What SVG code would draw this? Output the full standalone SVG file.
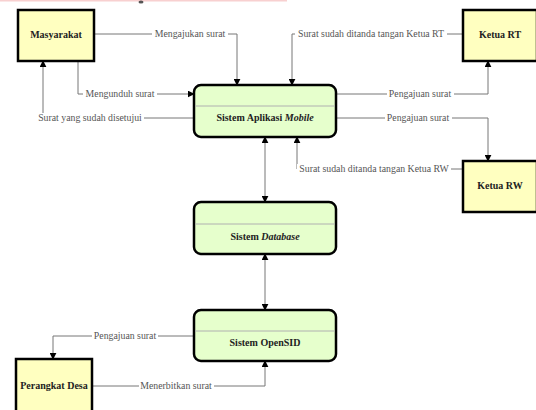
<svg xmlns="http://www.w3.org/2000/svg" width="536" height="410" viewBox="0 0 536 410">
<defs>
<marker id="ah" viewBox="0 0 10 10" refX="9" refY="5" markerWidth="7" markerHeight="7" orient="auto-start-reverse" markerUnits="userSpaceOnUse">
<path d="M0,0 L10,5 L0,10 z" fill="#000"/>
</marker>
<style>
.ent{fill:#FFFFC0;stroke:#000;stroke-width:2.5}
.proc{fill:#E6FFCC;stroke:#000;stroke-width:2.5}
.div{stroke:#B0B0B0;stroke-width:1}
.nt{font-family:"Liberation Serif","Times New Roman",serif;font-size:10px;font-weight:bold;fill:#222;text-anchor:middle}
.edge{fill:none;stroke:#777;stroke-width:1}
.arr{marker-end:url(#ah)}
.both{marker-start:url(#ah);marker-end:url(#ah)}
.el{font-family:"Liberation Serif","Times New Roman",serif;font-size:9.8px;fill:#555;text-anchor:middle}
.bg{fill:#fff}
</style>
</defs>
<rect x="0" y="0" width="287" height="1.5" fill="#F8D0D0"/>
<ellipse cx="141" cy="2" rx="2.5" ry="1.5" fill="#555"/>
<g id="connectors">
<polyline class="edge arr" points="94,34 237,34 237,85"/>
<polyline class="edge arr" points="78,61 78,94 194,94"/>
<polyline class="edge arr" points="194,118 43,118 43,61"/>
<polyline class="edge arr" points="462,34 292,34 292,85"/>
<polyline class="edge arr" points="336,94 488,94 488,61"/>
<polyline class="edge arr" points="336,118 488,118 488,161"/>
<polyline class="edge arr" points="462,169 297,169 297,137"/>
<line class="edge both" x1="265" y1="137" x2="265" y2="202"/>
<line class="edge both" x1="265" y1="254" x2="265" y2="310"/>
<polyline class="edge arr" points="194,336 53,336 53,359"/>
<polyline class="edge arr" points="92,386 265,386 265,361"/>
<rect class="bg" x="152" y="29" width="76" height="10"/>
<text class="el" x="190" y="37">Mengajukan surat</text>
<rect class="bg" x="83" y="89" width="74" height="10"/>
<text class="el" x="120" y="97">Mengunduh surat</text>
<rect class="bg" x="36" y="113" width="108" height="10"/>
<text class="el" x="90" y="121">Surat yang sudah disetujui</text>
<rect class="bg" x="295" y="29" width="152" height="10"/>
<text class="el" x="371" y="37">Surat sudah ditanda tangan Ketua RT</text>
<rect class="bg" x="387" y="89" width="67" height="10"/>
<text class="el" x="420" y="97">Pengajuan surat</text>
<rect class="bg" x="385" y="113" width="67" height="10"/>
<text class="el" x="418" y="121">Pengajuan surat</text>
<rect class="bg" x="297" y="164" width="154" height="10"/>
<text class="el" x="374" y="172">Surat sudah ditanda tangan Ketua RW</text>
<rect class="bg" x="92" y="331" width="66" height="10"/>
<text class="el" x="125" y="339">Pengajuan surat</text>
<rect class="bg" x="139" y="381" width="75" height="10"/>
<text class="el" x="176" y="389">Menerbitkan surat</text>
</g>
<g id="masyarakat">
<rect class="ent" x="18" y="10" width="76" height="51"/>
<text class="nt" x="56" y="38">Masyarakat</text>
</g>
<g id="ketua-rt">
<rect class="ent" x="463" y="10" width="74" height="51"/>
<text class="nt" x="500" y="38">Ketua RT</text>
</g>
<g id="ketua-rw">
<rect class="ent" x="463" y="161" width="74" height="51"/>
<text class="nt" x="500" y="189">Ketua RW</text>
</g>
<g id="perangkat-desa">
<rect class="ent" x="16" y="359" width="76" height="56"/>
<text class="nt" x="54" y="389">Perangkat Desa</text>
</g>
<g id="sistem-aplikasi">
<rect class="proc" x="194" y="85" width="142" height="52" rx="7"/>
<line class="div" x1="195" y1="106" x2="335" y2="106"/>
<text class="nt" x="265" y="121">Sistem Aplikasi <tspan font-style="italic">Mobile</tspan></text>
</g>
<g id="sistem-database">
<rect class="proc" x="194" y="202" width="142" height="52" rx="7"/>
<line class="div" x1="195" y1="224" x2="335" y2="224"/>
<text class="nt" x="265" y="240">Sistem <tspan font-style="italic">Database</tspan></text>
</g>
<g id="sistem-opensid">
<rect class="proc" x="194" y="310" width="142" height="51" rx="7"/>
<line class="div" x1="195" y1="331" x2="335" y2="331"/>
<text class="nt" x="265" y="346">Sistem OpenSID</text>
</g>
</svg>
